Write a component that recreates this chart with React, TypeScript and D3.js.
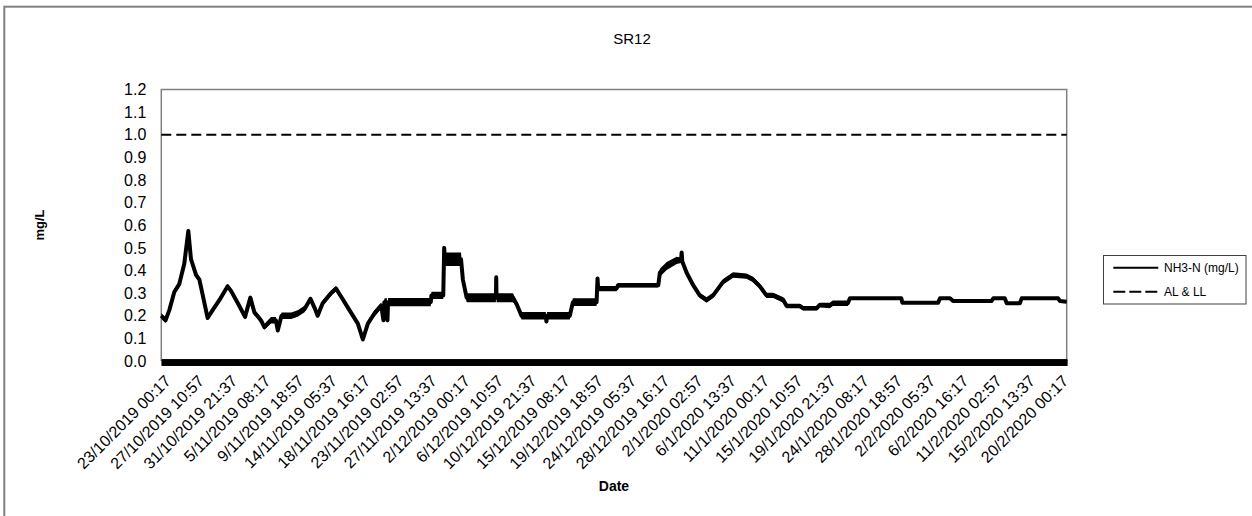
import React, { useEffect, useRef } from "react";
import * as d3 from "d3";

const W = 1252;
const H = 516;

const chartTitle = "SR12";
const yTitle = "mg/L";
const xTitle = "Date";
const seriesNames = ["NH3-N (mg/L)", "AL & LL"];

// NH3-N readings: time, mid value, half-width of the dense noise band
const times = [
  "2019-10-23 00:17", "2019-10-23 14:00", "2019-10-24 02:00", "2019-10-24 18:00", "2019-10-25 10:00",
  "2019-10-26 02:00", "2019-10-26 15:00", "2019-10-26 23:30", "2019-10-27 16:00", "2019-10-28 02:30",
  "2019-10-29 05:00", "2019-10-29 21:00", "2019-10-30 19:00", "2019-10-31 21:00", "2019-11-01 08:00",
  "2019-11-02 06:00", "2019-11-03 05:00", "2019-11-03 22:00", "2019-11-04 11:00", "2019-11-05 08:00",
  "2019-11-05 19:00", "2019-11-06 16:00", "2019-11-07 08:00", "2019-11-07 14:00", "2019-11-08 02:00",
  "2019-11-09 09:00", "2019-11-10 06:00", "2019-11-11 04:00", "2019-11-11 23:00", "2019-11-12 12:00",
  "2019-11-12 22:00", "2019-11-13 14:00", "2019-11-14 17:00", "2019-11-15 09:00", "2019-11-16 01:00",
  "2019-11-17 04:00", "2019-11-18 07:00", "2019-11-18 23:00", "2019-11-19 15:00", "2019-11-20 12:00",
  "2019-11-21 10:00", "2019-11-21 17:00", "2019-11-21 20:00", "2019-11-22 04:00", "2019-11-22 06:00",
  "2019-11-22 08:00", "2019-11-28 01:00", "2019-11-28 03:00", "2019-11-29 17:00", "2019-11-29 20:00",
  "2019-11-29 22:00", "2019-12-02 02:00", "2019-12-02 08:00", "2019-12-02 20:00", "2019-12-06 18:00",
  "2019-12-06 19:00", "2019-12-06 20:00", "2019-12-09 01:00", "2019-12-09 13:00", "2019-12-10 04:00",
  "2019-12-13 10:00", "2019-12-13 12:00", "2019-12-13 14:00", "2019-12-16 15:00", "2019-12-17 01:00",
  "2019-12-20 05:00", "2019-12-20 08:00", "2019-12-20 10:00", "2019-12-22 21:00", "2019-12-23 02:00",
  "2019-12-28 11:00", "2019-12-28 16:00", "2019-12-29 14:00", "2019-12-30 22:00", "2019-12-31 12:00",
  "2019-12-31 14:00", "2019-12-31 16:00", "2020-01-01 06:00", "2020-01-02 03:00", "2020-01-03 00:00",
  "2020-01-03 22:00", "2020-01-04 19:00", "2020-01-06 03:00", "2020-01-07 11:00", "2020-01-09 06:00",
  "2020-01-10 03:00", "2020-01-11 01:00", "2020-01-11 22:00", "2020-01-12 20:00", "2020-01-14 04:00",
  "2020-01-14 15:00", "2020-01-16 09:00", "2020-01-16 20:00", "2020-01-18 15:00", "2020-01-19 01:00",
  "2020-01-20 09:00", "2020-01-20 19:00", "2020-01-22 19:00", "2020-01-23 02:00", "2020-01-29 23:00",
  "2020-01-30 02:00", "2020-02-03 21:00", "2020-02-04 03:00", "2020-02-05 11:00", "2020-02-05 21:00",
  "2020-02-11 00:00", "2020-02-11 06:00", "2020-02-12 19:00", "2020-02-13 01:00", "2020-02-14 19:00",
  "2020-02-15 01:00", "2020-02-19 22:00", "2020-02-20 04:00", "2020-02-21 01:00",
];

const nh3 = [
  0.2, 0.18, 0.225, 0.305, 0.34,
  0.43, 0.575, 0.45, 0.38, 0.36,
  0.19, 0.225, 0.27, 0.33, 0.31,
  0.255, 0.195, 0.28, 0.215, 0.18,
  0.15, 0.18, 0.18, 0.135, 0.2,
  0.2, 0.21, 0.23, 0.275, 0.235,
  0.2, 0.255, 0.3, 0.32, 0.285,
  0.225, 0.165, 0.095, 0.165, 0.21,
  0.245, 0.18, 0.26, 0.26, 0.18,
  0.26, 0.26, 0.29, 0.29, 0.5,
  0.45, 0.45, 0.36, 0.28, 0.28,
  0.37, 0.28, 0.28, 0.25, 0.2,
  0.2, 0.175, 0.2, 0.2, 0.26,
  0.26, 0.365, 0.32, 0.32, 0.335,
  0.335, 0.39, 0.42, 0.445, 0.445,
  0.48, 0.44, 0.39, 0.335, 0.29,
  0.27, 0.29, 0.35, 0.38, 0.375,
  0.36, 0.33, 0.29, 0.29, 0.27,
  0.243, 0.243, 0.233, 0.233, 0.248,
  0.245, 0.255, 0.255, 0.277, 0.277,
  0.258, 0.258, 0.277, 0.277, 0.265,
  0.265, 0.277, 0.277, 0.255, 0.255,
  0.277, 0.277, 0.265, 0.262,
];

const noise = [
  0.012, 0.012, 0.012, 0.012, 0.012,
  0.01, 0.004, 0.01, 0.012, 0.01,
  0.01, 0.012, 0.012, 0.01, 0.012,
  0.012, 0.012, 0.006, 0.012, 0.012,
  0.012, 0.014, 0.014, 0.006, 0.014,
  0.014, 0.014, 0.014, 0.01, 0.012,
  0.01, 0.012, 0.012, 0.012, 0.012,
  0.012, 0.012, 0.006, 0.012, 0.014,
  0.014, 0.004, 0.016, 0.018, 0.004,
  0.018, 0.018, 0.016, 0.016, 0.004,
  0.03, 0.03, 0.01, 0.02, 0.02,
  0.004, 0.02, 0.02, 0.01, 0.017,
  0.017, 0.01, 0.017, 0.017, 0.017,
  0.017, 0.004, 0.012, 0.012, 0.01,
  0.01, 0.018, 0.018, 0.016, 0.012,
  0.004, 0.012, 0.012, 0.012, 0.012,
  0.012, 0.012, 0.012, 0.012, 0.012,
  0.012, 0.012, 0.012, 0.012, 0.012,
  0.01, 0.01, 0.01, 0.01, 0.01,
  0.012, 0.012, 0.012, 0.005, 0.005,
  0.005, 0.005, 0.005, 0.005, 0.005,
  0.005, 0.005, 0.005, 0.005, 0.005,
  0.005, 0.005, 0.005, 0.005,
];

// Alert / action limit
const limitTimes = ["2019-10-23 00:17", "2020-02-21 01:30"];
const limitValues = [1.0, 1.0];

// Category tick labels on the x axis
const xTickLabels = [
  "23/10/2019 00:17", "27/10/2019 10:57", "31/10/2019 21:37", "5/11/2019 08:17", "9/11/2019 18:57",
  "14/11/2019 05:37", "18/11/2019 16:17", "23/11/2019 02:57", "27/11/2019 13:37", "2/12/2019 00:17",
  "6/12/2019 10:57", "10/12/2019 21:37", "15/12/2019 08:17", "19/12/2019 18:57", "24/12/2019 05:37",
  "28/12/2019 16:17", "2/1/2020 02:57", "6/1/2020 13:37", "11/1/2020 00:17", "15/1/2020 10:57",
  "19/1/2020 21:37", "24/1/2020 08:17", "28/1/2020 18:57", "2/2/2020 05:37", "6/2/2020 16:17",
  "11/2/2020 02:57", "15/2/2020 13:37", "20/2/2020 00:17",
];

const yTickValues = [0, 0.1, 0.2, 0.3, 0.4, 0.5, 0.6, 0.7, 0.8, 0.9, 1.0, 1.1, 1.2];

const FONT = "Arial, 'Liberation Sans', sans-serif";

export default function App() {
  const ref = useRef<SVGSVGElement>(null);

  useEffect(() => {
    document.body.style.margin = "0";
    document.body.style.overflow = "hidden";
    const svg = d3.select(ref.current);
    svg.selectAll("*").remove();

    const parseT = d3.timeParse("%Y-%m-%d %H:%M");
    const parseL = d3.timeParse("%d/%m/%Y %H:%M");
    const fmtL = d3.timeFormat("%-d/%-m/%Y %H:%M");

    const plot = { left: 161.3, right: 1066.7, top: 89.5, bottom: 361 };

    const x = d3
      .scaleTime()
      .domain([parseT(limitTimes[0])!, parseT(limitTimes[1])!])
      .range([plot.left, plot.right]);
    const y = d3.scaleLinear().domain([0, 1.2]).range([plot.bottom, plot.top]);

    // outer chart border
    svg
      .append("rect")
      .attr("x", 4.3)
      .attr("y", 6.7)
      .attr("width", 1270)
      .attr("height", 530)
      .attr("fill", "#fff")
      .attr("stroke", "#808080")
      .attr("stroke-width", 2);

    // title
    svg
      .append("text")
      .attr("x", 632)
      .attr("y", 43.5)
      .attr("text-anchor", "middle")
      .attr("font-family", FONT)
      .attr("font-size", 15)
      .text(chartTitle);

    // plot border (left, top, right)
    svg
      .append("path")
      .attr(
        "d",
        `M${plot.left},${plot.bottom}V${plot.top}H${plot.right}V${plot.bottom}`
      )
      .attr("fill", "none")
      .attr("stroke", "#808080")
      .attr("stroke-width", 1.5);

    // y tick labels
    const yAxis = svg
      .append("g")
      .attr("transform", `translate(${plot.left},0)`)
      .call(
        d3
          .axisLeft(y)
          .tickValues(yTickValues)
          .tickSize(0)
          .tickPadding(15)
          .tickFormat(d3.format(".1f") as any)
      );
    yAxis.select(".domain").remove();
    yAxis
      .selectAll("text")
      .attr("font-family", FONT)
      .attr("font-size", 16)
      .attr("fill", "#000");

    // dense category tick marks forming the heavy x axis band
    const denseTicks = x.ticks(d3.timeHour.every(1)!);
    const band = svg
      .append("g")
      .attr("transform", `translate(0,359.6)`)
      .call(d3.axisBottom(x).tickValues(denseTicks).tickSize(6.2).tickSizeOuter(0).tickFormat(() => ""));
    band.select(".domain").attr("stroke", "#000").attr("stroke-width", 1.5);
    band.selectAll(".tick line").attr("stroke", "#000").attr("stroke-width", 1);

    // x tick labels
    const labelDates = xTickLabels.map((s) => parseL(s)!);
    const xl = svg
      .append("g")
      .attr("transform", `translate(0,${plot.bottom})`)
      .call(d3.axisBottom(x).tickValues(labelDates).tickSize(0).tickFormat((d) => fmtL(d as Date)));
    xl.select(".domain").remove();
    xl.selectAll("text")
      .attr("font-family", FONT)
      .attr("font-size", 16)
      .attr("fill", "#000")
      .attr("text-anchor", "end")
      .attr("x", 0)
      .attr("y", 0)
      .attr("dy", "0.71em")
      .attr("transform", "translate(2,13) rotate(-45)");

    // limit line
    const limitData = limitTimes.map((t, i) => ({ t: parseT(t)!, v: limitValues[i] }));
    svg
      .append("path")
      .datum(limitData)
      .attr(
        "d",
        d3
          .line<{ t: Date; v: number }>()
          .x((d) => x(d.t))
          .y((d) => y(d.v))
      )
      .attr("fill", "none")
      .attr("stroke", "#000")
      .attr("stroke-width", 2)
      .attr("stroke-dasharray", "10,5");

    // NH3-N series
    const data = times.map((t, i) => ({ t: parseT(t)!, v: nh3[i], n: noise[i] }));
    svg
      .append("path")
      .datum(data)
      .attr(
        "d",
        d3
          .area<{ t: Date; v: number; n: number }>()
          .x((d) => x(d.t))
          .y0((d) => y(d.v - d.n))
          .y1((d) => y(d.v + d.n))
      )
      .attr("fill", "#000");
    svg
      .append("path")
      .datum(data)
      .attr(
        "d",
        d3
          .line<{ t: Date; v: number; n: number }>()
          .x((d) => x(d.t))
          .y((d) => y(d.v))
      )
      .attr("fill", "none")
      .attr("stroke", "#000")
      .attr("stroke-width", 4)
      .attr("stroke-linejoin", "round");

    // axis titles
    svg
      .append("text")
      .attr("transform", `translate(44,225) rotate(-90)`)
      .attr("text-anchor", "middle")
      .attr("font-family", FONT)
      .attr("font-weight", "bold")
      .attr("font-size", 13)
      .text(yTitle);
    svg
      .append("text")
      .attr("x", 614)
      .attr("y", 491)
      .attr("text-anchor", "middle")
      .attr("font-family", FONT)
      .attr("font-weight", "bold")
      .attr("font-size", 14)
      .text(xTitle);

    // legend
    const lg = svg.append("g");
    lg.append("rect")
      .attr("x", 1103.5)
      .attr("y", 255.5)
      .attr("width", 142.5)
      .attr("height", 48.5)
      .attr("fill", "#fff")
      .attr("stroke", "#404040")
      .attr("stroke-width", 1);
    seriesNames.forEach((name, i) => {
      const cy = 267.7 + i * 24;
      lg.append("line")
        .attr("x1", 1113.3)
        .attr("x2", 1158.3)
        .attr("y1", cy)
        .attr("y2", cy)
        .attr("stroke", "#000")
        .attr("stroke-width", 2)
        .attr("stroke-dasharray", i === 1 ? "12,4" : null);
      lg.append("text")
        .attr("x", 1164)
        .attr("y", cy)
        .attr("dy", "0.35em")
        .attr("font-family", FONT)
        .attr("font-size", 12)
        .text(name);
    });
  }, []);

  return (
    <svg
      ref={ref}
      width={W}
      height={H}
      style={{ position: "absolute", left: 0, top: 0, background: "#fff" }}
    />
  );
}
